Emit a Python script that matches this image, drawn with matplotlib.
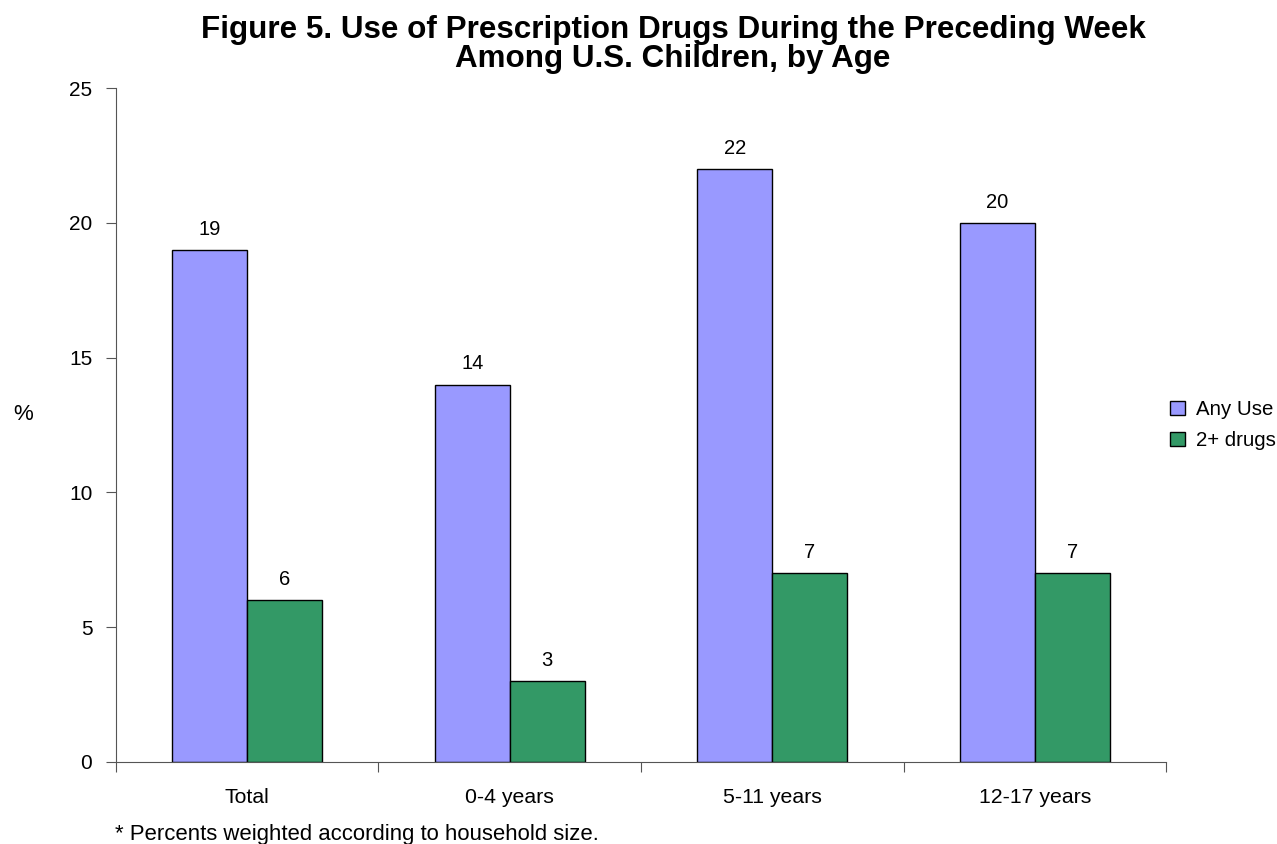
import matplotlib
matplotlib.use('Agg')
import matplotlib.pyplot as plt
import numpy as np

plt.rcParams['font.family'] = ['Liberation Sans', 'DejaVu Sans']

ages = ['Total', '0-4 years', '5-11 years', '12-17 years']
any_use = [19, 14, 22, 20]
two_plus = [6, 3, 7, 7]

fig = plt.figure(figsize=(12.77, 8.44), dpi=100)
ax = fig.add_axes([0.0908, 0.0972, 0.8223, 0.7985])

x = np.arange(len(ages))
w = 0.285
b1 = ax.bar(x - w/2, any_use, w, color='#9999FF', edgecolor='black', linewidth=1, label='Any Use')
b2 = ax.bar(x + w/2, two_plus, w, color='#339966', edgecolor='black', linewidth=1, label='2+ drugs')

# value labels above each bar
for bars, vals in [(b1, any_use), (b2, two_plus)]:
    for r, v in zip(bars, vals):
        ax.text(r.get_x() + r.get_width()/2, v + 0.56, str(v), ha='center', va='baseline', fontsize=14.5)

ax.set_xlim(-0.5, 3.5)
ax.set_ylim(0, 25)
ax.set_yticks([0, 5, 10, 15, 20, 25])
# ticks between groups, labels at group centres
ax.set_xticks(np.arange(-0.5, 4, 1))
ax.set_xticklabels([])
ax.set_xticks(x, minor=True)
ax.set_xticklabels(ages, minor=True, fontsize=15.3)
ax.tick_params(axis='x', which='minor', length=0, pad=19)
ax.tick_params(axis='x', which='major', length=7, direction='out', color='#555555')
ax.tick_params(axis='y', length=7, direction='out', labelsize=15, color='#555555', pad=10)
for s in ['top', 'right']:
    ax.spines[s].set_visible(False)
for s in ['left', 'bottom']:
    ax.spines[s].set_color('#555555')

fig.text(23/1277, 1 - 414/844, '%', ha='center', va='center', fontsize=16)

ax.legend(loc='center left', bbox_to_anchor=(0.996, 0.5), frameon=False, fontsize=14.7,
          handlelength=0.72, handleheight=0.72, handletextpad=0.55, labelspacing=0.58,
          borderaxespad=0.0)

fig.text(0.527, 1 - 38/844, 'Figure 5. Use of Prescription Drugs During the Preceding Week',
         ha='center', va='baseline', fontsize=22.6, fontweight='bold')
fig.text(0.527, 1 - 67/844, 'Among U.S. Children, by Age',
         ha='center', va='baseline', fontsize=22.6, fontweight='bold')
fig.text(115/1277, 1 - 840/844, '* Percents weighted according to household size.',
         va='baseline', fontsize=15.9)

fig.savefig('out.png', dpi=100)
